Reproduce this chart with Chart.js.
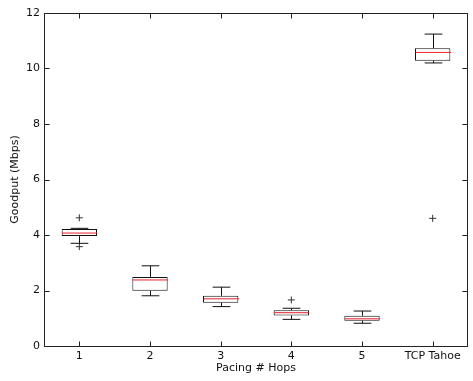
<!DOCTYPE html>
<html>
<head>
<meta charset="utf-8">
<script src="https://cdn.jsdelivr.net/npm/chart.js@4"></script>
<style>
  html, body { margin: 0; padding: 0; background: #fff; }
  canvas { display: block; }
</style>
</head>
<body>
<canvas id="chart" width="473" height="381"></canvas>
<script>
const categories = ['1', '2', '3', '4', '5', 'TCP Tahoe'];
const q1 = [3.96, 1.99, 1.56, 1.10, 0.91, 10.28];
const q3 = [4.22, 2.49, 1.81, 1.29, 1.09, 10.73];
const medians = [4.07, 2.38, 1.70, 1.20, 0.98, 10.58];
const whiskerLow = [3.70, 1.81, 1.42, 0.96, 0.82, 10.20];
const whiskerHigh = [4.24, 2.89, 2.12, 1.36, 1.26, 11.24];
const outliers = [
  { x: '1', y: 4.62 },
  { x: '1', y: 3.58 },
  { x: '4', y: 1.66 },
  { x: 'TCP Tahoe', y: 4.60 },
];
const yTicks = [0, 2, 4, 6, 8, 10, 12];

const ink = '#111';
const tickLen = 5;

// whiskers, caps and medians on top of the floating bars, then the boxed frame
const boxPlot = {
  id: 'boxPlot',
  afterDatasetsDraw(chart) {
    const { ctx, scales: { x, y } } = chart;
    const meta = chart.getDatasetMeta(0);
    ctx.save();
    ctx.lineWidth = 1;
    categories.forEach((c, i) => {
      const bar = meta.data[i];
      const cx = Math.round(bar.x) + 0.5;
      const half = bar.width / 2;
      const capHalf = half / 2;
      const yq1 = y.getPixelForValue(q1[i]);
      const yq3 = y.getPixelForValue(q3[i]);
      const ylo = y.getPixelForValue(whiskerLow[i]);
      const yhi = y.getPixelForValue(whiskerHigh[i]);
      ctx.strokeStyle = ink;
      ctx.beginPath();
      ctx.moveTo(cx, yq3); ctx.lineTo(cx, yhi);
      ctx.moveTo(cx, yq1); ctx.lineTo(cx, ylo);
      ctx.moveTo(cx - capHalf, yhi); ctx.lineTo(cx + capHalf, yhi);
      ctx.moveTo(cx - capHalf, ylo); ctx.lineTo(cx + capHalf, ylo);
      ctx.stroke();
      const ym = y.getPixelForValue(medians[i]);
      ctx.strokeStyle = '#e8202a';
      ctx.beginPath();
      ctx.moveTo(cx - half, ym); ctx.lineTo(cx + half, ym);
      ctx.stroke();
    });

    const a = chart.chartArea;
    const l = Math.round(a.left) + 0.5, r = Math.round(a.right) - 0.5;
    const t = Math.round(a.top) + 0.5, b = Math.round(a.bottom) + 0.5;
    ctx.strokeStyle = '#222';
    ctx.strokeRect(l, t, r - l, b - t);
    ctx.beginPath();
    yTicks.forEach(v => {
      const py = Math.round(y.getPixelForValue(v)) + 0.5;
      ctx.moveTo(l, py); ctx.lineTo(l + tickLen, py);
      ctx.moveTo(r, py); ctx.lineTo(r - tickLen, py);
    });
    categories.forEach((c, i) => {
      const px = Math.round(x.getPixelForValue(i)) + 0.5;
      ctx.moveTo(px, b); ctx.lineTo(px, b - tickLen);
      ctx.moveTo(px, t); ctx.lineTo(px, t + tickLen);
    });
    ctx.stroke();
    ctx.restore();
  }
};

Chart.defaults.font.family = '"DejaVu Sans", sans-serif';
Chart.defaults.font.size = 11;
Chart.defaults.color = ink;

new Chart(document.getElementById('chart'), {
  type: 'bar',
  data: {
    labels: categories,
    datasets: [
      {
        data: categories.map((c, i) => [q1[i], q3[i]]),
        backgroundColor: '#fff',
        borderColor: ink,
        borderWidth: 1,
        borderSkipped: false,
        barPercentage: 0.5,
        categoryPercentage: 1,
      },
      {
        type: 'scatter',
        data: outliers,
        pointStyle: 'cross',
        radius: 3.5,
        borderColor: '#333',
        borderWidth: 1,
        backgroundColor: '#333',
      },
    ],
  },
  options: {
    responsive: false,
    animation: false,
    devicePixelRatio: 1,
    layout: { padding: { top: 13, right: 1, left: 0, bottom: 0 } },
    plugins: { legend: { display: false }, tooltip: { enabled: false } },
    scales: {
      x: {
        type: 'category',
        grid: { display: false, drawTicks: false },
        border: { display: false },
        ticks: { padding: 3.5, maxRotation: 0, autoSkip: false },
        title: { display: true, text: 'Pacing # Hops', padding: { top: 0, bottom: 6 } },
        afterFit: s => { s.height = 35; },
      },
      y: {
        min: 0,
        max: 12,
        grid: { display: false, drawTicks: false },
        border: { display: false },
        ticks: { stepSize: 2, padding: 4 },
        title: { display: true, text: 'Goodput (Mbps)', padding: { top: 9, bottom: 0 } },
        afterFit: s => { s.width = 44; },
      },
    },
  },
  plugins: [boxPlot],
});
</script>
</body>
</html>
